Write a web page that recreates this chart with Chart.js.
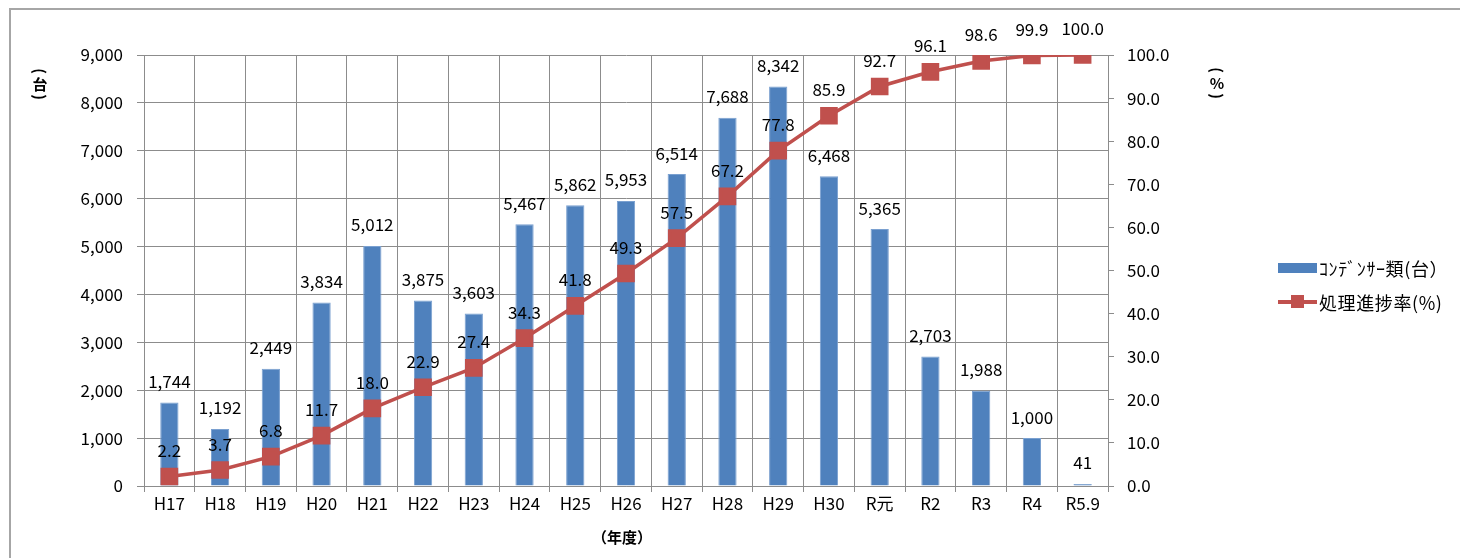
<!DOCTYPE html>
<html>
<head>
<meta charset="utf-8">
<script src="https://cdn.jsdelivr.net/npm/chart.js@4"></script>
<style>
  body { margin: 0; background: #fff; }
  #wrap { position: relative; width: 1460px; height: 558px; overflow: hidden; font-family: "Noto Sans CJK JP", sans-serif; }
  #frame { position: absolute; left: 9px; top: 8px; width: 1500px; height: 600px; border-left: 2px solid #a6a6a6; border-top: 2px solid #a6a6a6; }
  canvas { position: absolute; left: 0; top: 0; }
  .legend { position: absolute; left: 1278px; font-size: 18px; letter-spacing: 0.6px; color: #000; display: flex; align-items: center; }
  .swatch-bar { width: 39px; height: 10px; background: #4F81BD; margin-right: 2px; }
  .swatch-line { position: relative; width: 39px; height: 4px; background: #C0504D; margin-right: 2px; }
  .swatch-line::after { content: ""; position: absolute; left: 13px; top: -5px; width: 13px; height: 13px; background: #C0504D; }
</style>
</head>
<body>
<div id="wrap">
  <div id="frame"></div>
  <canvas id="chart" width="1460" height="558"></canvas>
  <div style="position:absolute; left:592px; top:526px; font-size:15px; font-weight:bold;">（年度）</div>
  <div class="legend" style="top:255px;"><div class="swatch-bar"></div>ｺﾝﾃﾞﾝｻｰ類(台）</div>
  <div class="legend" style="top:289px;"><div class="swatch-line"></div>処理進捗率(%)</div>
</div>
<script>
// Data
const years = ['H17', 'H18', 'H19', 'H20', 'H21', 'H22', 'H23', 'H24', 'H25', 'H26',
               'H27', 'H28', 'H29', 'H30', 'R元', 'R2', 'R3', 'R4', 'R5.9'];
const condensers = [1744, 1192, 2449, 3834, 5012, 3875, 3603, 5467, 5862, 5953,
                    6514, 7688, 8342, 6468, 5365, 2703, 1988, 1000, 41];
const progressRate = [2.2, 3.7, 6.8, 11.7, 18.0, 22.9, 27.4, 34.3, 41.8, 49.3,
                      57.5, 67.2, 77.8, 85.9, 92.7, 96.1, 98.6, 99.9, 100.0];

const gridColor = '#8c8c8c';
const tickFont = { family: '"Noto Sans CJK JP", sans-serif', size: 17 };

// Draw value labels above bars and points
const valueLabels = {
    id: 'valueLabels',
    afterDatasetsDraw(chart) {
        const ctx = chart.ctx;
        ctx.save();
        ctx.font = '17px "Noto Sans CJK JP", sans-serif';
        ctx.fillStyle = '#000';
        ctx.textAlign = 'center';
        ctx.textBaseline = 'middle';
        chart.data.datasets.forEach((ds, i) => {
            const meta = chart.getDatasetMeta(i);
            meta.data.forEach((el, j) => {
                const v = ds.data[j];
                if (ds.type === 'bar') {
                    ctx.fillText(v.toLocaleString('en-US'), el.x, el.y - 21);
                } else {
                    ctx.fillText(v.toFixed(1), el.x, el.y - 26);
                }
            });
        });
        ctx.restore();
    }
};

// Vertical axis titles: rotated parens stacked around the unit
function drawVerticalTitle(ctx, x, y, unit) {
    ctx.save();
    ctx.font = 'bold 15px "Noto Sans CJK JP", sans-serif';
    ctx.fillStyle = '#000';
    ctx.textAlign = 'center';
    ctx.textBaseline = 'middle';
    ctx.save();
    ctx.translate(x, y - 13);
    ctx.rotate(Math.PI / 2);
    ctx.fillText('(', 0, 0);
    ctx.restore();
    ctx.fillText(unit, x, y);
    ctx.save();
    ctx.translate(x, y + 13);
    ctx.rotate(Math.PI / 2);
    ctx.fillText(')', 0, 0);
    ctx.restore();
    ctx.restore();
}

const axisTitles = {
    id: 'axisTitles',
    afterDraw(chart) {
        drawVerticalTitle(chart.ctx, 40, 84, '台');
        drawVerticalTitle(chart.ctx, 1217, 83, '%');
    }
};

new Chart(document.getElementById('chart'), {
    data: {
        labels: years,
        datasets: [{
            type: 'line',
            label: '処理進捗率(%)',
            data: progressRate,
            yAxisID: 'y1',
            borderColor: '#C0504D',
            borderWidth: 3.5,
            pointStyle: 'rect',
            pointRadius: 10,
            pointBackgroundColor: '#C0504D',
            pointBorderColor: '#C0504D',
            tension: 0,
            order: 0
        }, {
            type: 'bar',
            label: 'ｺﾝﾃﾞﾝｻｰ類(台）',
            data: condensers,
            yAxisID: 'y',
            backgroundColor: '#4F81BD',
            borderColor: '#7aa0d0',
            borderWidth: 1,
            barPercentage: 0.36,
            categoryPercentage: 1,
            order: 1
        }]
    },
    options: {
        responsive: false,
        animation: false,
        layout: { padding: { top: 55, left: 0, right: 0, bottom: 0 } },
        plugins: {
            legend: { display: false },
            tooltip: { enabled: false }
        },
        scales: {
            x: {
                offset: true,
                grid: { offset: true, color: gridColor, tickLength: 6 },
                border: { color: gridColor },
                ticks: { color: '#000', font: tickFont, padding: 1, maxRotation: 0, autoSkip: false },
                afterFit: function(scale) { scale.height = 72; }
            },
            y: {
                position: 'left',
                min: 0,
                max: 9000,
                grid: { color: gridColor, tickLength: 7 },
                border: { color: gridColor },
                ticks: {
                    stepSize: 1000,
                    color: '#000',
                    font: tickFont,
                    padding: 14,
                    callback: function(value) { return value.toLocaleString('en-US'); }
                },
                afterFit: function(scale) { scale.width = 144; }
            },
            y1: {
                position: 'right',
                min: 0,
                max: 100,
                grid: { drawOnChartArea: false, color: gridColor, tickLength: 6 },
                border: { color: gridColor },
                ticks: {
                    stepSize: 10,
                    color: '#000',
                    font: tickFont,
                    padding: 13,
                    callback: function(value) { return value.toFixed(1); }
                },
                afterFit: function(scale) { scale.width = 352; }
            }
        }
    },
    plugins: [valueLabels, axisTitles]
});
</script>
</body>
</html>
